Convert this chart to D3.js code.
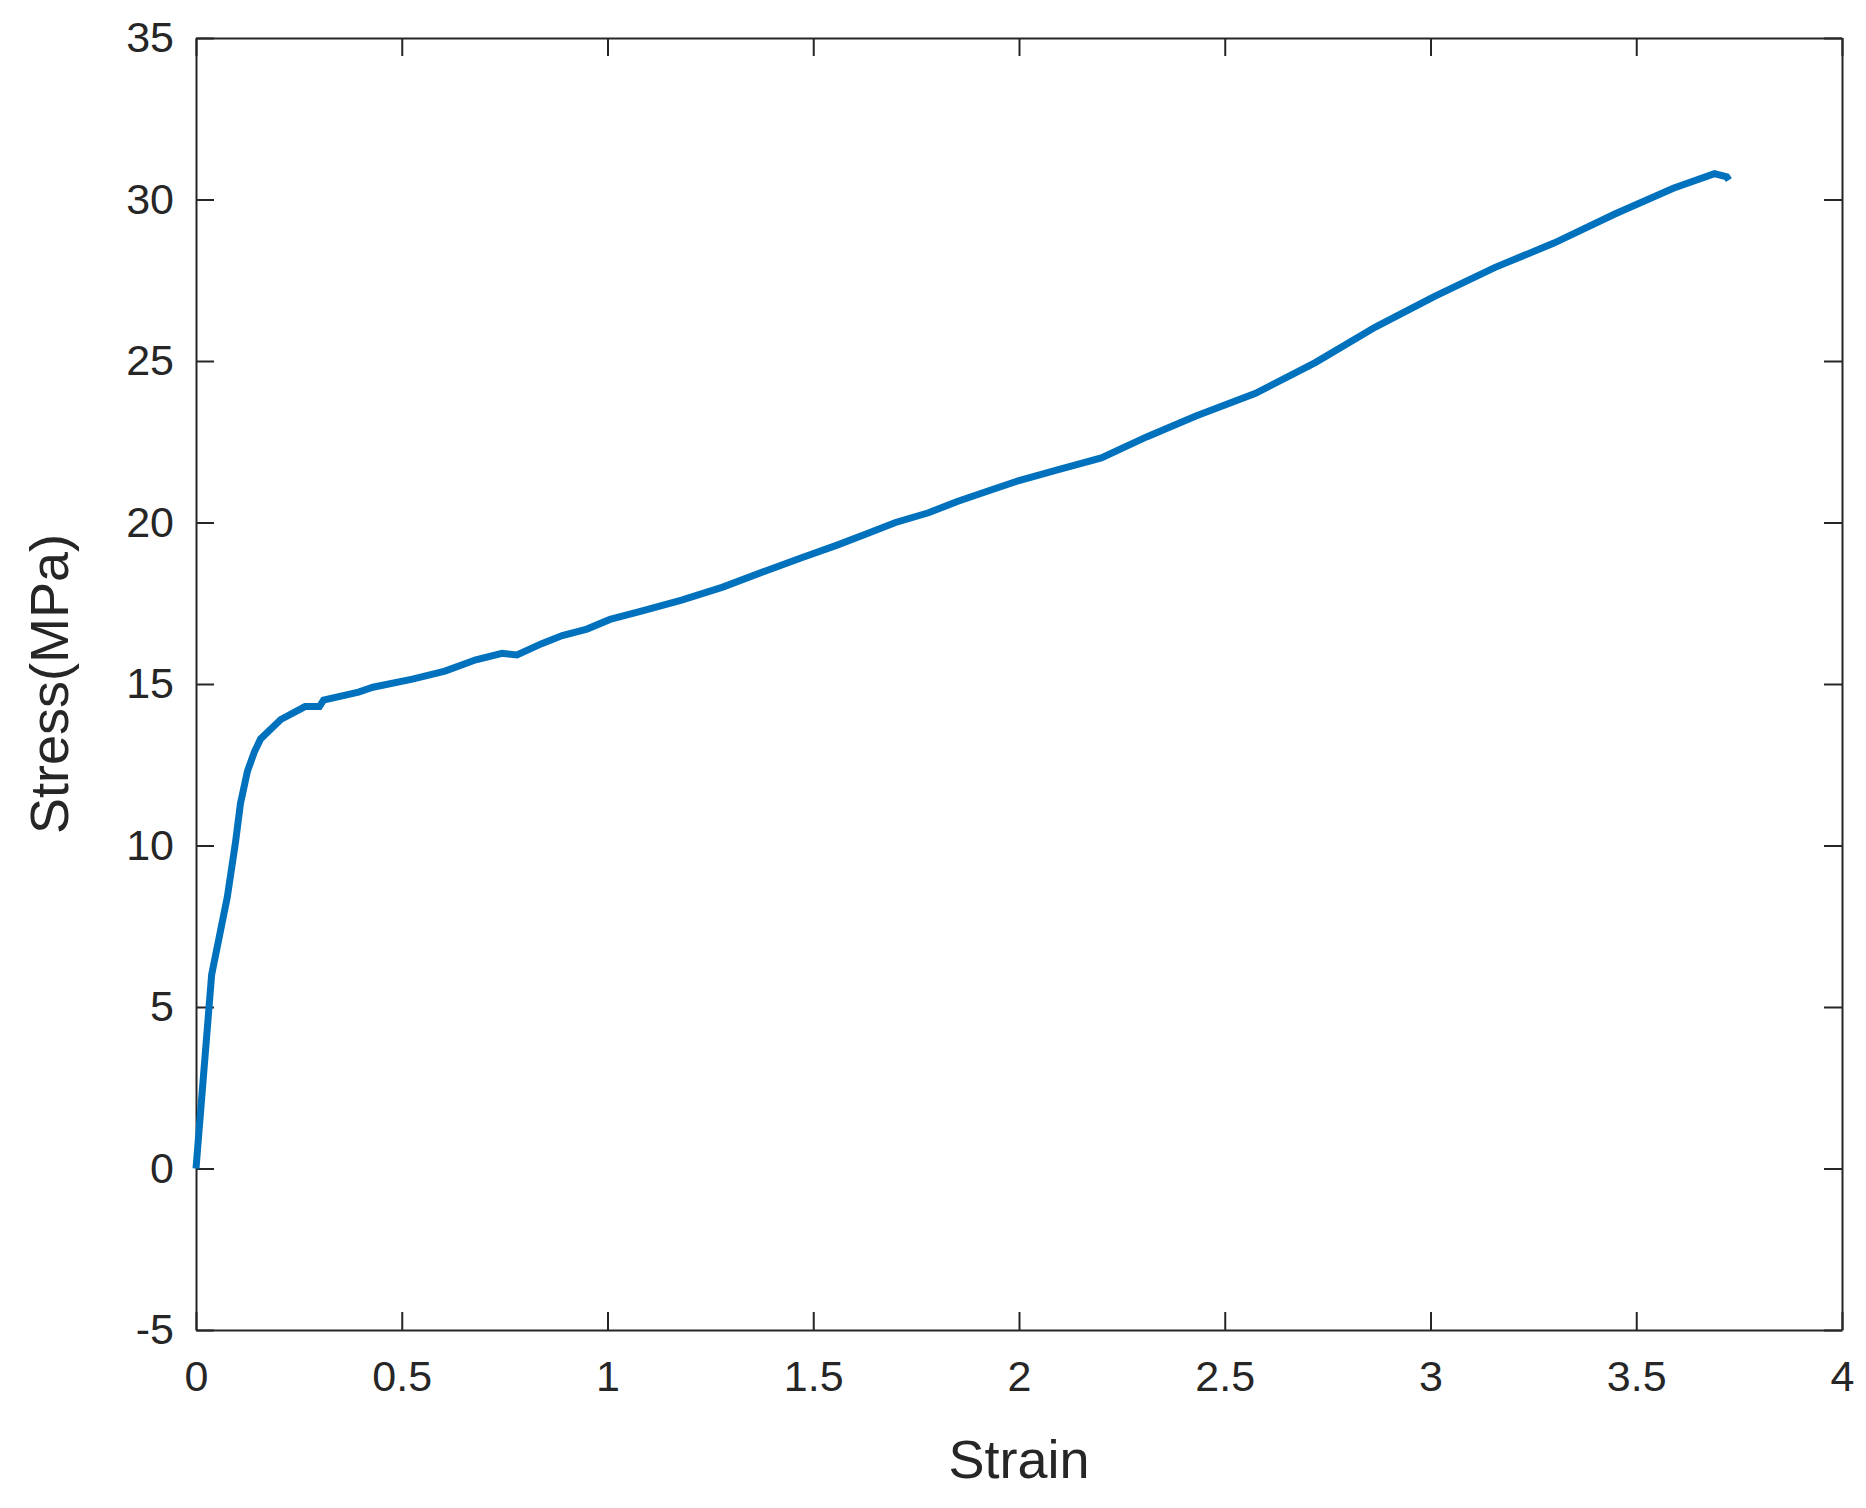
<!DOCTYPE html>
<html><head><meta charset="utf-8">
<script src="https://cdn.jsdelivr.net/npm/d3@7"></script>
<style>body{margin:0;background:#fff}</style></head>
<body><div id="plot"></div>
<script>
// stress-strain curve, values
const strain = [0, 0.038, 0.076, 0.096, 0.108, 0.125, 0.142, 0.157, 0.206, 0.265, 0.30, 0.31, 0.395, 0.43, 0.526, 0.605, 0.68, 0.744, 0.78, 0.84, 0.89, 0.95, 1.006, 1.08, 1.18, 1.28, 1.384, 1.47, 1.558, 1.63, 1.70, 1.78, 1.85, 1.93, 2.0, 2.1, 2.2, 2.31, 2.43, 2.575, 2.72, 2.866, 3.01, 3.157, 3.30, 3.448, 3.59, 3.69, 3.72, 3.725];
const stress = [0, 6.0, 8.4, 10.1, 11.3, 12.3, 12.9, 13.3, 13.9, 14.3, 14.3, 14.5, 14.75, 14.9, 15.15, 15.4, 15.75, 15.95, 15.9, 16.25, 16.5, 16.7, 17.0, 17.25, 17.6, 18.0, 18.5, 18.9, 19.3, 19.65, 20.0, 20.3, 20.65, 21.0, 21.3, 21.65, 22.0, 22.65, 23.3, 24.0, 24.95, 26.05, 27.0, 27.9, 28.65, 29.55, 30.35, 30.8, 30.7, 30.6];
const xTicks = [0, 0.5, 1, 1.5, 2, 2.5, 3, 3.5, 4];
const yTicks = [-5, 0, 5, 10, 15, 20, 25, 30, 35];

const W = 1866, H = 1508;
const margin = {top: 38, right: 24, bottom: 178, left: 196};
const width = W - margin.left - margin.right, height = H - margin.top - margin.bottom;
const ink = "#262626";

const svg = d3.select("#plot").append("svg").attr("width", W).attr("height", H)
    .append("g").attr("transform", `translate(${margin.left},${margin.top})`);

const x = d3.scaleLinear().domain([0, 4]).range([0, width]);
const y = d3.scaleLinear().domain([-5, 35]).range([height, 0]);

const fmt = d => String(d);
svg.append("g").attr("transform", `translate(0,${height})`)
    .call(d3.axisBottom(x).tickValues(xTicks).tickFormat(fmt).tickSizeInner(-18).tickSizeOuter(0).tickPadding(30));
svg.append("g").call(d3.axisTop(x).tickValues(xTicks).tickFormat("").tickSizeInner(-18).tickSizeOuter(0));
svg.append("g")
    .call(d3.axisLeft(y).tickValues(yTicks).tickFormat(fmt).tickSizeInner(-18).tickSizeOuter(0).tickPadding(22));
svg.append("g").attr("transform", `translate(${width},0)`)
    .call(d3.axisRight(y).tickValues(yTicks).tickFormat("").tickSizeInner(-18).tickSizeOuter(0));

svg.selectAll(".domain").attr("stroke", ink).attr("stroke-width", 2);
svg.selectAll(".tick line").attr("stroke", ink).attr("stroke-width", 2);
svg.selectAll(".tick text").attr("fill", ink).style("font-family", "Arial, 'Liberation Sans', sans-serif").style("font-size", "43px");

// the curve
const pts = strain.map((s, i) => [s, stress[i]]);
svg.append("path").datum(pts)
    .attr("fill", "none").attr("stroke", "#0072BD").attr("stroke-width", 7)
    .attr("d", d3.line().x(d => x(d[0])).y(d => y(d[1])));

// axis labels
svg.append("text").attr("text-anchor", "middle")
    .attr("x", width / 2).attr("y", height + 148)
    .attr("fill", ink).style("font-family", "Arial, 'Liberation Sans', sans-serif").style("font-size", "54px")
    .text("Strain");
svg.append("text").attr("text-anchor", "middle").attr("transform", "rotate(-90)")
    .attr("x", -y(15)).attr("y", -128)
    .attr("fill", ink).style("font-family", "Arial, 'Liberation Sans', sans-serif").style("font-size", "54px")
    .text("Stress(MPa)");
</script></body></html>
